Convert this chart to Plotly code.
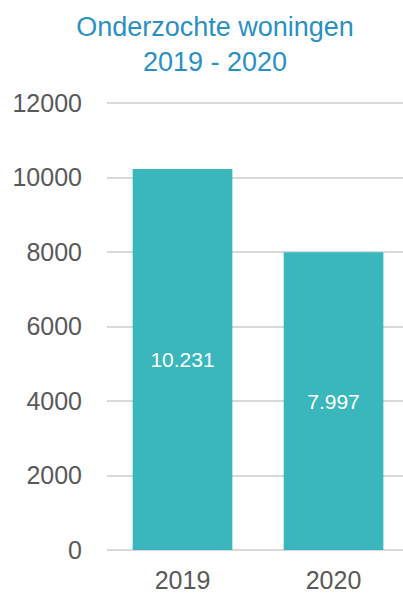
import plotly.graph_objects as go

# Onderzochte woningen per jaar
jaren = ["2019", "2020"]
aantallen = [10231, 7997]
labels = ["10.231", "7.997"]
y_ticks = [0, 2000, 4000, 6000, 8000, 10000, 12000]

fig = go.Figure(
    go.Bar(
        x=jaren,
        y=aantallen,
        text=labels,
        texttemplate="%{text}",
        textposition="inside",
        insidetextanchor="middle",
        textfont=dict(family="Liberation Sans, Arial", size=21, color="white"),
        marker=dict(color="#3AB7BC", line=dict(width=0)),
        width=0.66,
        hoverinfo="skip",
    )
)

fig.update_layout(
    width=403,
    height=596,
    margin=dict(l=107, r=0, t=101, b=46),
    paper_bgcolor="white",
    plot_bgcolor="white",
    showlegend=False,
    font=dict(family="Liberation Sans, Arial", color="#595959"),
    title=dict(
        text="Onderzochte woningen<br>2019 - 2020",
        x=215 / 403,
        xanchor="center",
        xref="container",
        y=1 - 36 / 596,
        yanchor="middle",
        yref="container",
        font=dict(family="Liberation Sans, Arial", size=27, color="#2A90C2"),
    ),
)

fig.update_yaxes(
    range=[0, 12060],
    tickvals=y_ticks,
    ticktext=[str(v) for v in y_ticks],
    showgrid=True,
    gridcolor="#D9D9D9",
    gridwidth=1.5,
    zeroline=True,
    zerolinecolor="#D9D9D9",
    zerolinewidth=1.5,
    showline=False,
    ticks="",
    ticklabelstandoff=24,
    tickfont=dict(size=25, color="#595959"),
    automargin=False,
    fixedrange=True,
)
fig.update_xaxes(
    range=[-0.5, 1.46],
    showgrid=False,
    showline=False,
    ticks="",
    ticklabelstandoff=13,
    tickfont=dict(size=25, color="#595959"),
    automargin=False,
    fixedrange=True,
)

fig.write_html("out.html")
